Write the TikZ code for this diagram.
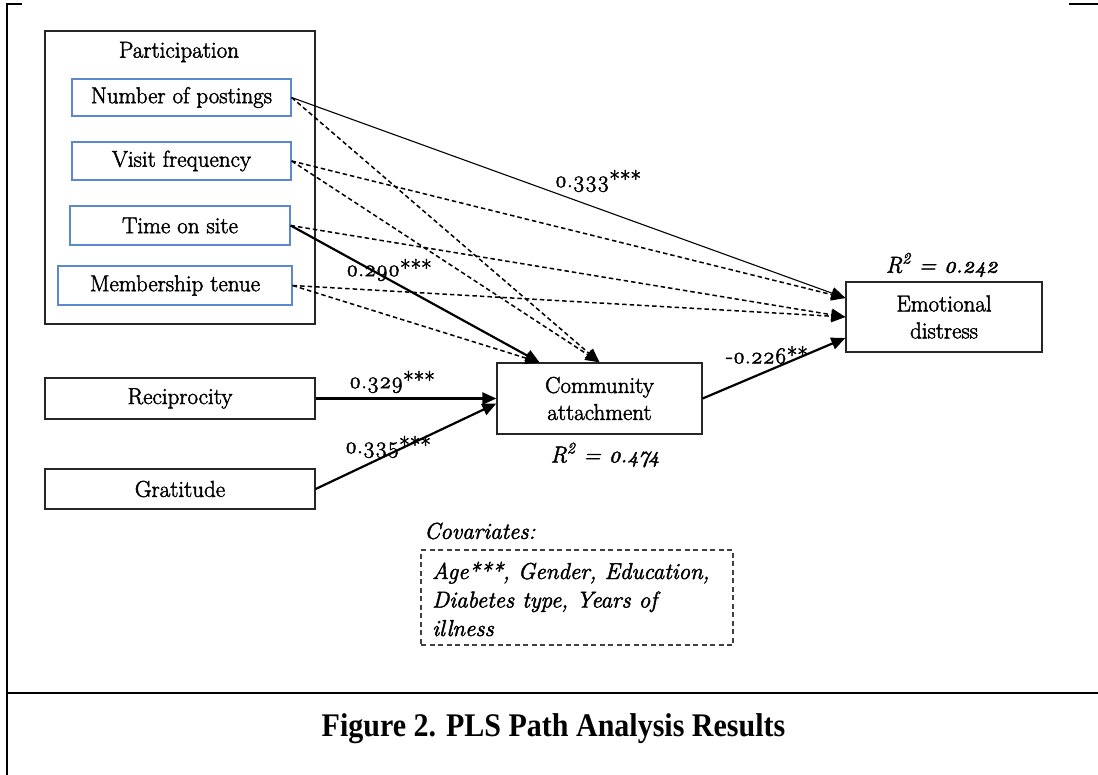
\documentclass[tikz,border=0pt]{standalone}
\usepackage{fontspec}
\setmainfont{Latin Modern Roman}[FakeBold=2]
\newfontfamily\captionfont{Liberation Serif}
\usetikzlibrary{arrows.meta,calc}

\definecolor{boxblue}{RGB}{92,136,208}

% coefficient set with old-style figures
\newcommand\coefval[1]{{\addfontfeatures{Numbers=OldStyle}#1}}

\tikzset{
  every node/.style={font=\fontsize{23}{27}\selectfont, inner sep=0pt},
  plain box/.style={draw=black!85, line width=1.3pt, rectangle, align=center},
  item box/.style={draw=boxblue, line width=1.3pt, rectangle},
  coef/.style={font=\fontsize{23}{27}\selectfont},
  rsq/.style={font=\fontsize{23}{27}\selectfont\itshape},
  tip/.style={-{Triangle[length=14pt,width=12pt]}},
  path solid/.style={tip, line width=2.2pt},
  path thin/.style={tip, line width=1.1pt},
  path ns/.style={tip, line width=1.5pt, dash pattern=on 4.5pt off 3pt},
  cov box/.style={draw=black!75, line width=1.2pt, dash pattern=on 5pt off 3.5pt},
  frame/.style={line width=2.5pt},
}

\begin{document}
\begin{tikzpicture}[x=1pt, y=-1pt]
\useasboundingbox (0,0) rectangle (1098,775);

% page frame
\draw[frame] (22,4) -- (7,4) -- (7,775);
\draw[frame] (1069,4) -- (1098,4);
\draw[frame] (7,693) -- (1098,693);

% participation block
\node[plain box, minimum width=270pt, minimum height=293pt] (part) at (180,177.5) {};
\node (parttitle) at (179,52) {Participation};
\node[item box, minimum width=219pt, minimum height=37pt] (post)   at (181.5,97.5) {Number of postings};
\node[item box, minimum width=219pt, minimum height=38pt] (visit)  at (181.5,161)  {Visit frequency};
\node[item box, minimum width=220pt, minimum height=39pt] (time)   at (180,225.5)  {Time on site};
\node[item box, minimum width=234pt, minimum height=39pt] (tenure) at (175,285.5)  {Membership tenue};

% other constructs
\node[plain box, minimum width=270pt, minimum height=41pt] (recip) at (180,398.5) {Reciprocity};
\node[plain box, minimum width=270pt, minimum height=40pt] (grat)  at (180,489)   {Gratitude};
\node[plain box, minimum width=205pt, minimum height=71pt] (ca) at (599.5,398.5) {Community\\attachment};
\node[plain box, minimum width=196pt, minimum height=70pt] (ed) at (944,317) {Emotional\\distress};

% explained variance
\node[rsq] (rca) at (605,455) {R\textsuperscript{2} = \coefval{0.474}};
\node[rsq] (red) at (942,265) {R\textsuperscript{2} = \coefval{0.242}};

% paths
\draw[path thin] (post.east) -- ([yshift=19pt]ed.west);
\draw[path ns] (post.east) -- (ca.north);
\draw[path ns] (visit.east) -- ([yshift=19pt]ed.west);
\draw[path ns] (visit.east) -- (ca.north);
\draw[path solid] (time.east) -- ([xshift=-60pt]ca.north);
\draw[path ns] (time.east) -- (ed.west);
\draw[path ns] (tenure.east) -- (ed.west);
\draw[path ns] (tenure.east) -- ([xshift=-60pt]ca.north);
\draw[path solid] (recip.east) -- (ca.west);
\draw[path solid] (grat.east) -- ([yshift=-5pt]ca.west);
\draw[path solid] (ca.east) -- ([yshift=-21pt]ed.west);

% path coefficients
\node[coef] (c333) at (598,181) {\coefval{0.333}***};
\node[coef] (c290) at (389,270) {\coefval{0.290}***};
\node[coef] (c329) at (392,382) {\coefval{0.329}***};
\node[coef] (c335) at (388,447) {\coefval{0.335}***};
\node[coef] (c226) at (767,355) {-\coefval{0.226}**};

% covariates
\node[anchor=west, font=\fontsize{23}{27}\selectfont\itshape] (covtitle) at (424,531) {Covariates:};
\node[cov box, minimum width=312pt, minimum height=95pt] (covbox) at (577,597.5) {};
\node[anchor=west, align=left, font=\fontsize{23}{28.5}\selectfont\itshape] (covtext) at (432,599)
  {Age***, Gender, Education,\\Diabetes type, Years of\\illness};

% caption
\node[font=\captionfont\bfseries\fontsize{30}{34}\selectfont] (caption) at (553.5,729)
  {\scalebox{1}[1.1]{Figure 2. PLS Path Analysis Results}};
\end{tikzpicture}
\end{document}
